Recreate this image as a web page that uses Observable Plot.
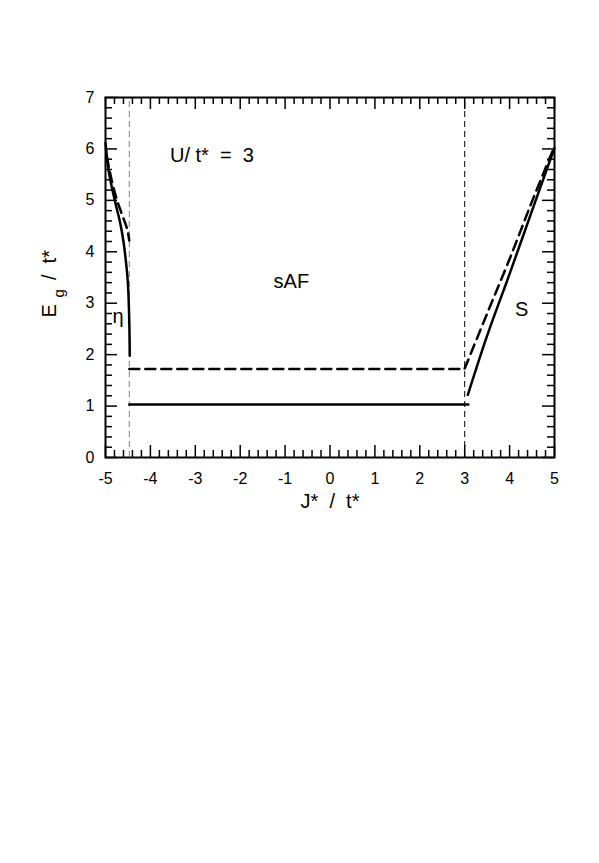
<!DOCTYPE html>
<html>
<head>
<meta charset="utf-8">
<script src="https://cdn.jsdelivr.net/npm/d3@7"></script>
<script src="https://cdn.jsdelivr.net/npm/@observablehq/plot@0.6"></script>
<style>
  html, body { margin: 0; padding: 0; background: #fff; }
  #chart svg { display: block; }
</style>
</head>
<body>
<div id="chart"></div>
<script>
// ---------- data ----------
// eta phase (left), solid and dashed branches
const etaSolidJ = [-5.0, -4.93, -4.85, -4.76, -4.67, -4.6, -4.55, -4.51, -4.49, -4.475, -4.465, -4.46];
const etaSolidE = [6.12, 5.58, 5.22, 4.88, 4.55, 4.2, 3.85, 3.5, 3.2, 2.8, 2.4, 1.98];
const etaDashJ  = [-4.97, -4.87, -4.75, -4.63, -4.52, -4.47];
const etaDashE  = [5.85, 5.42, 5.02, 4.72, 4.45, 4.22];
// sAF phase (middle): flat gaps
const safSolidJ = [-4.47, 3.08];
const safSolidE = [1.03, 1.03];
const safDashJ  = [-4.47, 3.0];
const safDashE  = [1.72, 1.72];
// S phase (right)
const sSolidJ = [3.07, 3.5, 4.0, 4.5, 5.0];
const sSolidE = [1.22, 2.37, 3.57, 4.8, 6.02];
const sDashJ  = [3.0, 3.5, 4.0, 4.5, 5.0];
const sDashE  = [1.73, 2.8, 3.86, 4.98, 6.05];
// phase boundaries
const boundaryJ     = [-4.47, 3.0];
const boundaryColor = ["#808080", "#000000"];
// axes
const xTicks = [-5, -4, -3, -2, -1, 0, 1, 2, 3, 4, 5];
const xTickLabels = ["-5", "-4", "-3", "-2", "-1", "0", "1", "2", "3", "4", "5"];
const yTicks = [0, 1, 2, 3, 4, 5, 6, 7];
const yTickLabels = ["0", "1", "2", "3", "4", "5", "6", "7"];
// annotations (centre of each label)
const noteText = ["U/\u00a0t*\u00a0\u00a0=\u00a0\u00a03", "sAF", "S", "\u03b7"];
const noteJ    = [-2.63, -0.86, 4.27, -4.72];
const noteE    = [5.745, 3.29, 2.76, 2.61];

// ---------- layout ----------
const W = 599, H = 863;
const mL = 105, mR = 45, mT = 97, mB = 406;
const xDom = [-5, 5], yDom = [0, 7];
const pxPerX = (W - mL - mR) / (xDom[1] - xDom[0]);
const pxPerY = (H - mT - mB) / (yDom[1] - yDom[0]);
const majLen = 12, minLen = 7;

const zip = (J, E) => J.map((j, i) => ({J: j, E: E[i]}));
const xMinor = d3.range(-5, 5.0001, 0.2).map(v => +v.toFixed(2)).filter(v => Math.abs(v - Math.round(v)) > 1e-6);
const yMinor = d3.range(0, 7.0001, 0.2).map(v => +v.toFixed(2)).filter(v => Math.abs(v - Math.round(v)) > 1e-6);
const notes = noteText.map((t, i) => ({t, J: noteJ[i], E: noteE[i]}));
const bounds = boundaryJ.map((j, i) => ({J: j, c: boundaryColor[i]}));

const solid = {x: "J", y: "E", stroke: "#000", strokeWidth: 2.5, curve: "catmull-rom"};
const dashed = {...solid, strokeDasharray: "10,6"};

const chart = Plot.plot({
  width: W, height: H,
  marginLeft: mL, marginRight: mR, marginTop: mT, marginBottom: mB,
  style: {fontFamily: "'Liberation Sans', Arial, Helvetica, sans-serif", fontSize: "16px", color: "#000", background: "#fff"},
  x: {domain: xDom, axis: null},
  y: {domain: yDom, axis: null},
  marks: [
    // phase boundaries
    Plot.ruleX(bounds, {x: "J", y1: 0, y2: 7, stroke: "c", strokeWidth: 1, strokeDasharray: "6,4"}),
    // curves
    Plot.line(zip(etaSolidJ, etaSolidE), solid),
    Plot.line(zip(etaDashJ, etaDashE), dashed),
    Plot.line(zip(safSolidJ, safSolidE), {...solid, curve: "linear"}),
    Plot.line(zip(safDashJ, safDashE), {...dashed, curve: "linear"}),
    Plot.line(zip(sSolidJ, sSolidE), solid),
    Plot.line(zip(sDashJ, sDashE), dashed),
    // inward ticks: bottom, top, left, right
    Plot.ruleX(xTicks, {x: d => d, y1: 0, y2: majLen / pxPerY, strokeWidth: 1.5}),
    Plot.ruleX(xMinor, {x: d => d, y1: 0, y2: minLen / pxPerY, strokeWidth: 1.5}),
    Plot.ruleX(xTicks, {x: d => d, y1: 7 - majLen / pxPerY, y2: 7, strokeWidth: 1.5}),
    Plot.ruleX(xMinor, {x: d => d, y1: 7 - minLen / pxPerY, y2: 7, strokeWidth: 1.5}),
    Plot.ruleY(yTicks, {y: d => d, x1: -5, x2: -5 + majLen / pxPerX, strokeWidth: 1.5}),
    Plot.ruleY(yMinor, {y: d => d, x1: -5, x2: -5 + minLen / pxPerX, strokeWidth: 1.5}),
    Plot.ruleY(yTicks, {y: d => d, x1: 5 - majLen / pxPerX, x2: 5, strokeWidth: 1.5}),
    Plot.ruleY(yMinor, {y: d => d, x1: 5 - minLen / pxPerX, x2: 5, strokeWidth: 1.5}),
    Plot.frame({stroke: "#000", strokeWidth: 2}),
    // tick labels
    Plot.axisX({ticks: xTicks, tickFormat: d => xTickLabels[xTicks.indexOf(d)], tickSize: 0, tickPadding: 15, fontSize: 16, label: null, anchor: "bottom"}),
    Plot.axisY({ticks: yTicks, tickFormat: d => yTickLabels[yTicks.indexOf(d)], tickSize: 0, tickPadding: 11, fontSize: 16, label: null, anchor: "left"}),
    // annotations
    Plot.text(notes, {x: "J", y: "E", text: "t", textAnchor: "middle", lineAnchor: "bottom", fontSize: 20}),
    // axis titles
    Plot.text(["J*\u00a0\u00a0/\u00a0\u00a0t*"], {text: d => d, frameAnchor: "bottom", dy: 50, lineAnchor: "bottom", fontSize: 20}),
    Plot.text(["E"], {text: d => d, y: () => 2.72, frameAnchor: "left", dx: 55 - mL, rotate: -90, textAnchor: "start", lineAnchor: "bottom", fontSize: 20}),
    Plot.text(["g"], {text: d => d, y: () => 3.11, frameAnchor: "left", dx: 63 - mL, rotate: -90, textAnchor: "start", lineAnchor: "bottom", fontSize: 15}),
    Plot.text(["/\u00a0\u00a0t*"], {text: d => d, y: () => 3.45, frameAnchor: "left", dx: 55 - mL, rotate: -90, textAnchor: "start", lineAnchor: "bottom", fontSize: 20})
  ]
});
document.getElementById("chart").appendChild(chart);
</script>
</body>
</html>
